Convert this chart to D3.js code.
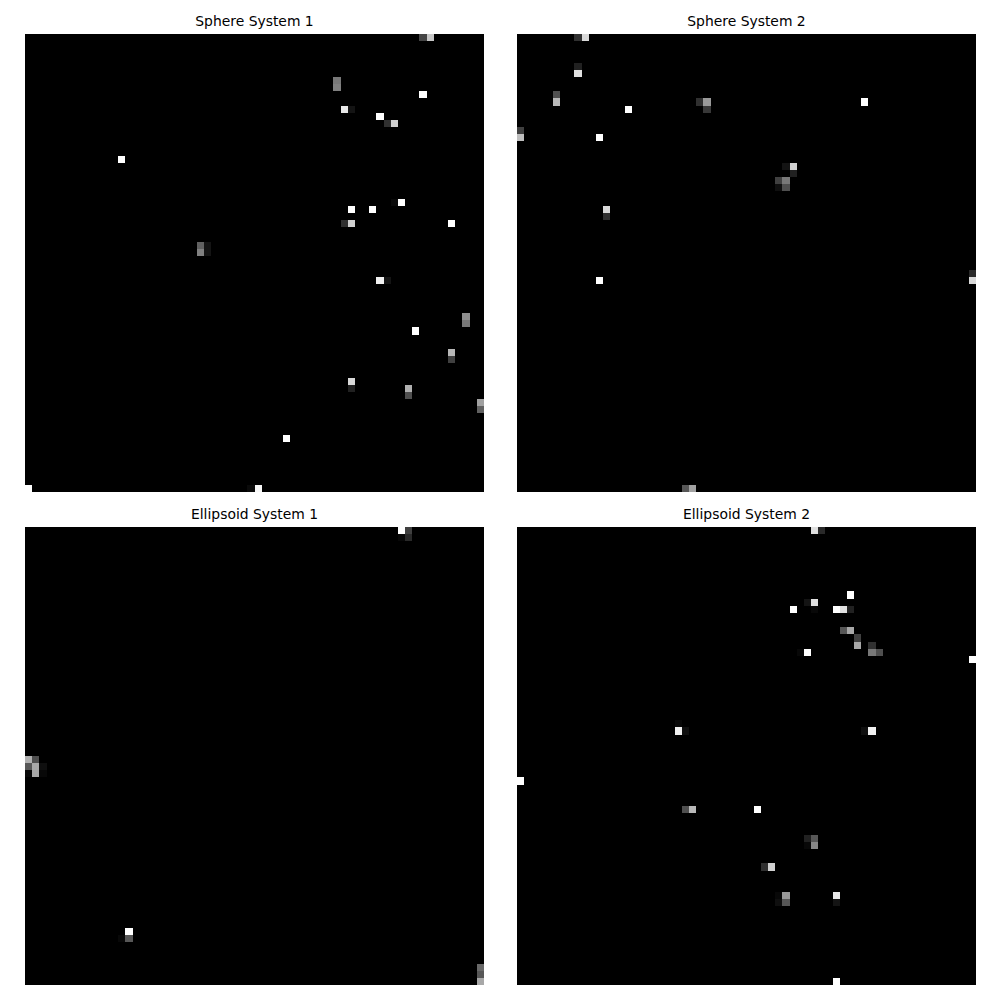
<!DOCTYPE html>
<html>
<head>
<meta charset="utf-8">
<script src="https://cdn.jsdelivr.net/npm/d3@7"></script>
<style>
  body { margin: 0; background: #fff; }
  svg { display: block; }
</style>
</head>
<body>
<svg id="chart" width="1000" height="1000"></svg>
<script>
// grid size of each image
var gridSize = 64;

var titles = ["Sphere System 1", "Sphere System 2", "Ellipsoid System 1", "Ellipsoid System 2"];

// non-zero cells: [row, col, intensity]
var sphere1 = [
	[0,55,0.27],[0,56,0.78],
	[6,43,0.47],[7,43,0.5],
	[8,55,1],
	[10,44,0.91],[10,45,0.08],
	[11,49,1],
	[12,50,0.19],[12,51,0.82],
	[17,13,1],
	[23,51,0.04],[23,52,1],
	[24,45,1],[24,48,1],
	[26,44,0.19],[26,45,0.82],[26,59,1],
	[29,24,0.38],[30,24,0.5],[29,25,0.08],[30,25,0.08],
	[34,49,0.94],[34,50,0.08],
	[39,61,0.56],[40,61,0.47],
	[41,54,1],
	[44,59,0.72],[45,59,0.25],
	[48,45,0.85],[49,45,0.13],
	[49,53,0.69],[50,53,0.31],
	[51,63,0.63],[52,63,0.38],
	[56,36,1],
	[63,0,1],[63,31,0.04],[63,32,0.97]
];

var sphere2 = [
	[0,8,0.19],[0,9,0.85],
	[4,8,0.13],[5,8,0.88],
	[8,5,0.31],[9,5,0.72],
	[10,15,1],
	[9,25,0.19],[9,26,0.6],[10,26,0.22],
	[9,48,1],
	[13,0,0.25],[14,0,0.75],
	[14,11,1],
	[18,37,0.08],[18,38,0.82],[19,38,0.13],
	[20,36,0.25],[20,37,0.47],[21,36,0.06],[21,37,0.31],
	[24,12,0.85],[25,12,0.19],
	[33,63,0.16],[34,63,0.85],
	[34,11,1],
	[63,23,0.34],[63,24,0.63]
];

var ellipsoid1 = [
	[0,52,1],[0,53,0.25],[1,52,0.03],[1,53,0.16],
	[32,0,0.69],[32,1,0.31],
	[33,0,0.34],[33,1,0.66],[33,2,0.06],
	[34,0,0.03],[34,1,0.66],[34,2,0.03],
	[56,14,1],[57,13,0.03],[57,14,0.34],
	[61,63,0.41],[62,63,0.34],[63,63,0.66]
];

var ellipsoid2 = [
	[0,41,0.88],[0,42,0.16],
	[9,46,1],
	[10,40,0.08],[10,41,0.88],
	[11,38,1],[11,41,0.03],[11,44,1],[11,45,0.88],[11,46,0.13],
	[14,45,0.34],[14,46,0.66],
	[15,47,0.25],[16,47,0.66],
	[16,49,0.19],[17,49,0.47],[17,50,0.31],
	[17,39,0.03],[17,40,1],
	[18,63,1],
	[27,22,0.03],[28,22,0.94],[28,23,0.06],
	[28,48,0.06],[28,49,0.94],
	[35,0,1],
	[39,23,0.31],[39,24,0.72],
	[39,33,1],
	[43,40,0.13],[43,41,0.34],[44,40,0.03],[44,41,0.53],
	[47,34,0.19],[47,35,0.82],
	[51,36,0.03],[51,37,0.6],[52,36,0.06],[52,37,0.34],
	[51,44,0.91],[52,44,0.08],
	[63,44,1]
];

var systems = [sphere1, sphere2, ellipsoid1, ellipsoid2];

var svg = d3.select("#chart");

var panelW = 459,
	panelH = 458,
	panelX = [25, 517],
	panelY = [34, 527];

var idx = d3.range(gridSize);
var x = d3.scaleBand().domain(idx).range([0, panelW]);
var y = d3.scaleBand().domain(idx).range([0, panelH]);
var color = d3.scaleLinear().domain([0, 1]).range(["#000000", "#ffffff"]).clamp(true);

systems.forEach(function(cells, i){
	var px = panelX[i % 2],
		py = panelY[Math.floor(i / 2)];

	// expand to full grid
	var grid = [];
	idx.forEach(function(r){
		idx.forEach(function(c){
			grid.push({row: r, col: c, v: 0});
		});
	});
	cells.forEach(function(d){
		grid[d[0] * gridSize + d[1]].v = d[2];
	});

	var g = svg.append("g")
		.attr("transform", "translate(" + px + "," + py + ")");

	g.append("rect")
		.attr("width", panelW)
		.attr("height", panelH)
		.style("fill", color(0));

	g.selectAll("rect.cell")
		.data(grid)
		.enter()
		.append("rect")
		.attr("class", "cell")
		.attr("x", function(d){ return x(d.col); })
		.attr("y", function(d){ return y(d.row); })
		.attr("width", x.bandwidth() + 0.3)
		.attr("height", y.bandwidth() + 0.3)
		.attr("shape-rendering", "crispEdges")
		.style("fill", function(d){ return color(d.v); });

	g.append("text")
		.attr("x", panelW / 2)
		.attr("y", -8)
		.attr("text-anchor", "middle")
		.style("font-family", "DejaVu Sans")
		.style("font-size", "13.9px")
		.style("fill", "#000")
		.text(titles[i]);
});
</script>
</body>
</html>
